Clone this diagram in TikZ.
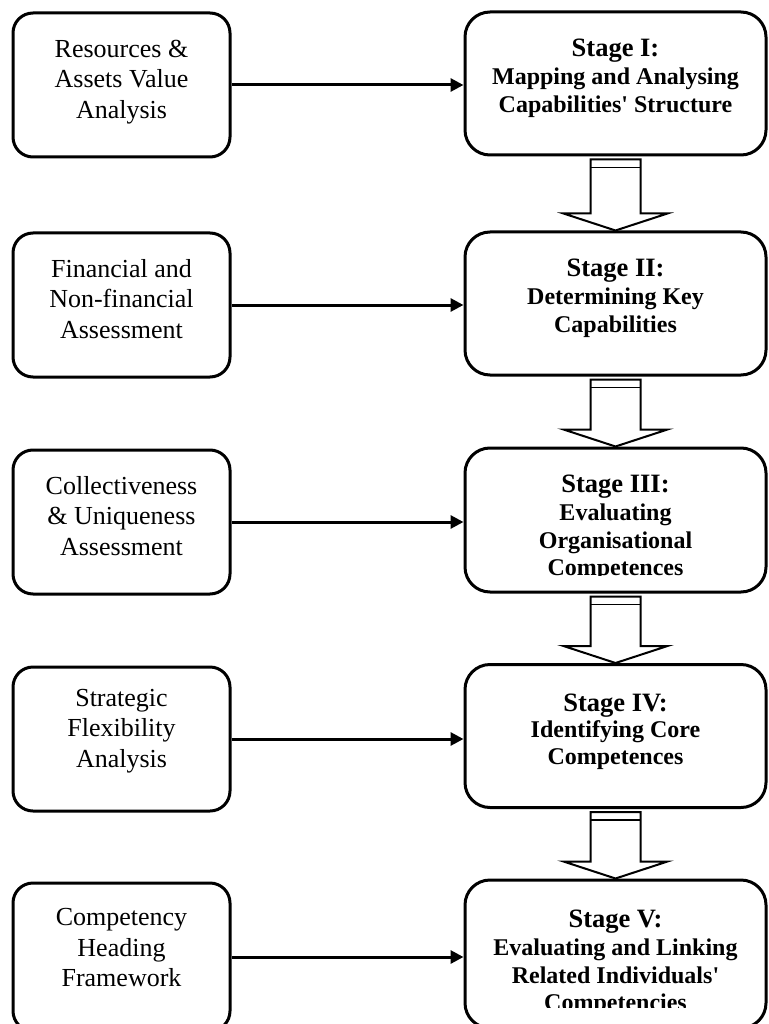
\documentclass[tikz,border=0pt]{standalone}
\usepackage{fontspec}
\setmainfont{Liberation Serif}
\usetikzlibrary{arrows.meta}

\begin{document}
\begin{tikzpicture}[x=1pt,y=-1pt,
  inbox/.style={draw,line width=3pt,rounded corners=20pt,minimum width=217pt,
    minimum height=144pt,inner sep=0pt},
  stagebox/.style={draw,line width=3pt,rounded corners=25pt,minimum width=301pt,
    minimum height=143pt,inner sep=0pt},
  intext/.style={align=center,inner sep=0pt,font=\fontsize{26}{30.5}\selectfont},
  stagetext/.style={align=center,anchor=north,inner sep=0pt,
    font=\bfseries\fontsize{24}{27.5}\selectfont},
  feed/.style={line width=3pt,-{Triangle[length=13pt,width=13pt]}},
  blockarrow/.style={draw,line width=2pt,fill=white,line join=miter},
]
\fill[white] (0,0) rectangle (768,1024);
\useasboundingbox (0,0) rectangle (768,1024);

\newcommand{\stagehead}[1]{{\fontsize{26.5}{27.5}\selectfont #1}}

% input analyses (left column)
\node[inbox] (l1) at (121.5,85) {};
\node[intext] (t1) at (121.5,82) {Resources \&\\Assets Value\\Analysis};
\node[inbox] (l2) at (121.5,305) {};
\node[intext] (t2) at (121.5,299) {Financial and\\Non-financial\\Assessment};
\node[inbox] (l3) at (121.5,522) {};
\node[intext] (t3) at (121.5,516) {Collectiveness\\\& Uniqueness\\Assessment};
\node[inbox] (l4) at (121.5,739) {};
\node[intext] (t4) at (121.5,731) {Strategic\\Flexibility\\Analysis};
\node[inbox,minimum height=148pt] (l5) at (121.5,957) {};
\node[intext] (t5) at (121.5,948) {Competency\\Heading\\Framework};

% stages (right column)
\node[stagebox] (s1) at (615.5,83.5) {};
\node[stagetext] (u1) at ([yshift=-28pt]s1.north)
  {\stagehead{Stage I:}\\[1pt]Mapping and Analysing\\Capabilities\textquotesingle{} Structure};
\node[stagebox] (s2) at (615.5,303.5) {};
\node[stagetext] (u2) at ([yshift=-28pt]s2.north)
  {\stagehead{Stage II:}\\[1pt]Determining Key\\Capabilities};
\node[stagebox,minimum height=144pt] (s3) at (615.5,520) {};
\begin{scope}
  \clip (465,440) rectangle (766,575);
  \node[stagetext] (u3) at ([yshift=-28pt]s3.north)
    {\stagehead{Stage III:}\\[1pt]Evaluating\\Organisational\\Competences};
\end{scope}
\node[stagebox] (s4) at (615.5,736) {};
\node[stagetext] (u4) at ([yshift=-31pt]s4.north)
  {\stagehead{Stage IV:}\\[-2pt]Identifying Core\\Competences};
\node[stagebox,minimum height=148pt] (s5) at (615.5,954) {};
\begin{scope}
  \clip (465,870) rectangle (766,1007);
  \node[stagetext] (u5) at ([yshift=-31pt]s5.north)
    {\stagehead{Stage V:}\\[1pt]Evaluating and Linking\\Related Individuals\textquotesingle\\Competencies};
\end{scope}

% each analysis feeds its stage
\foreach \i in {1,...,5}
  \draw[feed] (l\i.east) -- (l\i.east -| s\i.west);

% hollow block arrows from one stage to the next
\foreach \a/\b in {s1/s2,s2/s3,s3/s4,s4/s5} {
  \draw[blockarrow]
    ([xshift=-25pt,yshift=-3pt]\a.south) -- ([xshift=-25pt,yshift=17pt]\b.north)
    -- ([xshift=-52pt,yshift=17pt]\b.north) -- (\b.north)
    -- ([xshift=52pt,yshift=17pt]\b.north) -- ([xshift=25pt,yshift=17pt]\b.north)
    -- ([xshift=25pt,yshift=-3pt]\a.south) -- cycle;
  \draw[line width=1.5pt] ([xshift=-25pt,yshift=-11pt]\a.south)
    -- ([xshift=25pt,yshift=-11pt]\a.south);
}
\end{tikzpicture}
\end{document}
